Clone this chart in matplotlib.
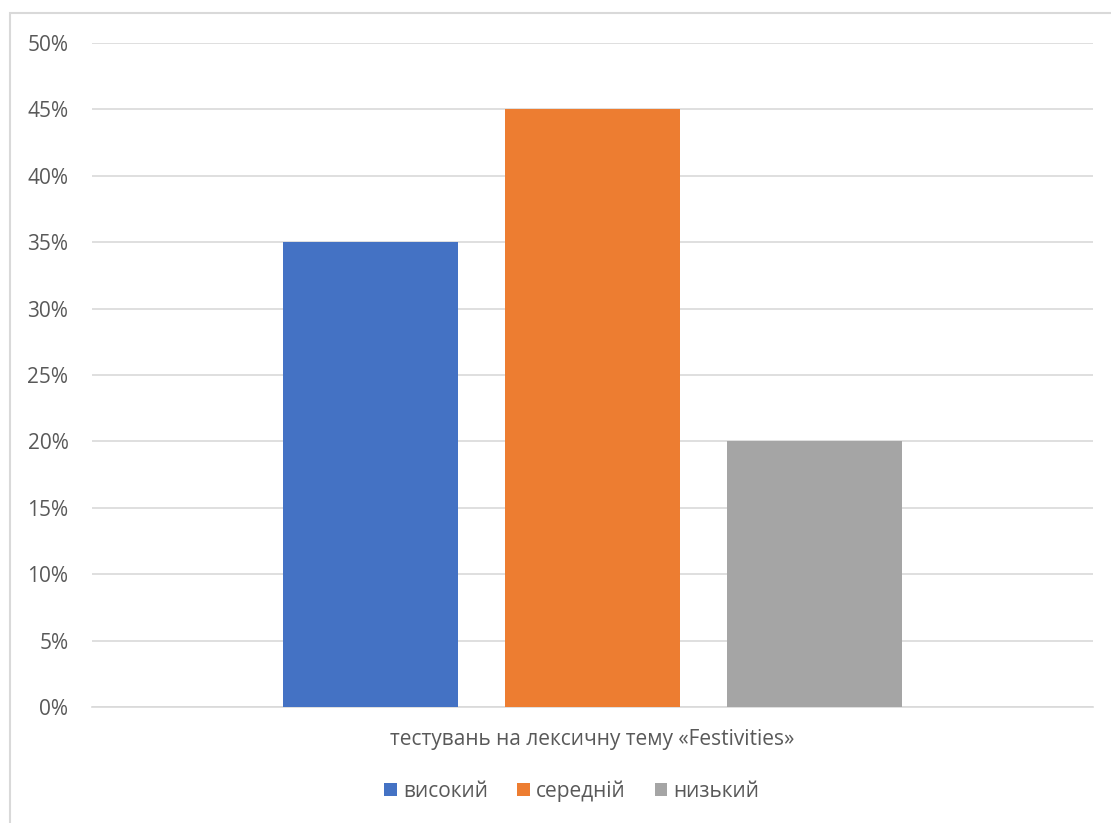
import matplotlib.pyplot as plt
from matplotlib.patches import Rectangle
from matplotlib.ticker import FuncFormatter, MultipleLocator

plt.rcParams['font.family'] = ['Open Sans', 'DejaVu Sans']

# levels and their shares
levels = ['високий', 'середній', 'низький']
shares = [0.35, 0.45, 0.20]
colors = ['#4472C4', '#ED7D31', '#A5A5A5']
category = 'тестувань на лексичну тему «Festivities»'

W, H = 1111, 823
fig = plt.figure(figsize=(W / 100, H / 100), dpi=100)
ax = fig.add_axes([92 / W, 1 - 707 / H, (1093 - 92) / W, (707 - 43) / H])

# outer chart frame (only left and top visible)
fig.patches.append(Rectangle((10 / W, -0.5), 2.0, 1.5 - 13 / H,
                             transform=fig.transFigure, fill=False,
                             edgecolor='#D9D9D9', linewidth=1.5))

x = range(len(levels))
bars = ax.bar(x, shares, width=0.788, color=colors, label=levels, zorder=3)

ax.set_xlim(-1.254, 3.254)
ax.set_ylim(0, 0.5)
ax.yaxis.set_major_locator(MultipleLocator(0.05))
ax.yaxis.set_major_formatter(FuncFormatter(lambda v, p: f'{round(v * 100)}%'))
ax.grid(axis='y', color='#D9D9D9', linewidth=1.2, zorder=0)
ax.set_xticks([])
for s in ['top', 'right', 'left']:
    ax.spines[s].set_visible(False)
ax.spines['bottom'].set_color('#D9D9D9')
ax.spines['bottom'].set_linewidth(1.2)
ax.tick_params(axis='y', length=0, pad=17, labelsize=15, labelcolor='#595959')

fig.text(592 / W, 1 - 740 / H, category, ha='center', va='center',
         fontsize=15, color='#595959')

fig.legend(handles=bars, labels=levels, loc='center', bbox_to_anchor=(572 / W, 1 - 791 / H),
           ncol=3, frameon=False, fontsize=15, labelcolor='#595959',
           handlelength=0.6, handleheight=0.6, handletextpad=0.3, columnspacing=1.4)

fig.savefig('out.png', dpi=100)
